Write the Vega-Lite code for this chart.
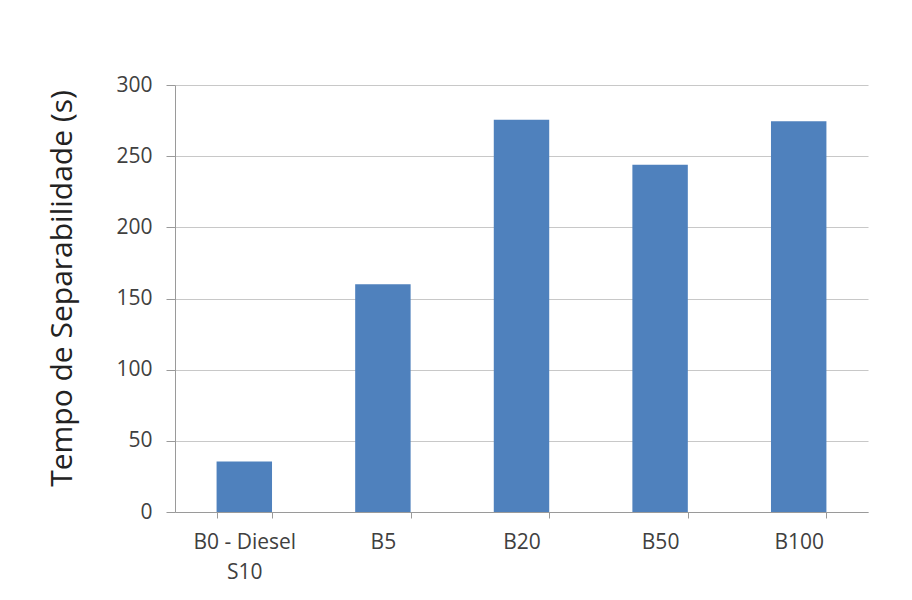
{
  "$schema": "https://vega.github.io/schema/vega-lite/v6.json",
  "width": 693,
  "height": 427,
  "autosize": {"type": "none"},
  "padding": {"left": 175, "top": 85, "right": 44, "bottom": 88},
  "background": "white",
  "config": {"view": {"stroke": null}, "font": "Open Sans"},
  "data": {
    "values": [
      {"amostra": "B0 - Diesel S10", "tempo": 35.5},
      {"amostra": "B5", "tempo": 160},
      {"amostra": "B20", "tempo": 275.5},
      {"amostra": "B50", "tempo": 244},
      {"amostra": "B100", "tempo": 274.5}
    ]
  },
  "mark": {"type": "bar", "color": "#4f81bd"},
  "encoding": {
    "x": {
      "field": "amostra",
      "type": "nominal",
      "sort": null,
      "scale": {"paddingInner": 0.6, "paddingOuter": 0.3},
      "axis": {
        "title": null,
        "labelAngle": 0,
        "labelFontSize": 21,
        "labelColor": "#404040",
        "labelPadding": 13,
        "labelExpr": "datum.value == 'B0 - Diesel S10' ? ['B0 - Diesel', 'S10'] : datum.label",
        "labelLineHeight": 30,
        "domainColor": "#9a9a9a",
        "tickColor": "#9a9a9a",
        "tickBand": "extent",
        "tickSize": 6,
        "grid": false
      }
    },
    "y": {
      "field": "tempo",
      "type": "quantitative",
      "scale": {"domain": [0, 300], "nice": false},
      "axis": {
        "title": "Tempo de Separabilidade (s)",
        "titleFontSize": 30,
        "titleFontWeight": "normal",
        "titleColor": "#222222",
        "titlePadding": 38,
        "titleY": 203,
        "values": [0, 50, 100, 150, 200, 250, 300],
        "labelFontSize": 21,
        "labelColor": "#404040",
        "labelPadding": 14,
        "domainColor": "#9a9a9a",
        "tickColor": "#9a9a9a",
        "tickSize": 9,
        "gridColor": "#c8c8c8",
        "gridWidth": 1.2
      }
    }
  }
}
